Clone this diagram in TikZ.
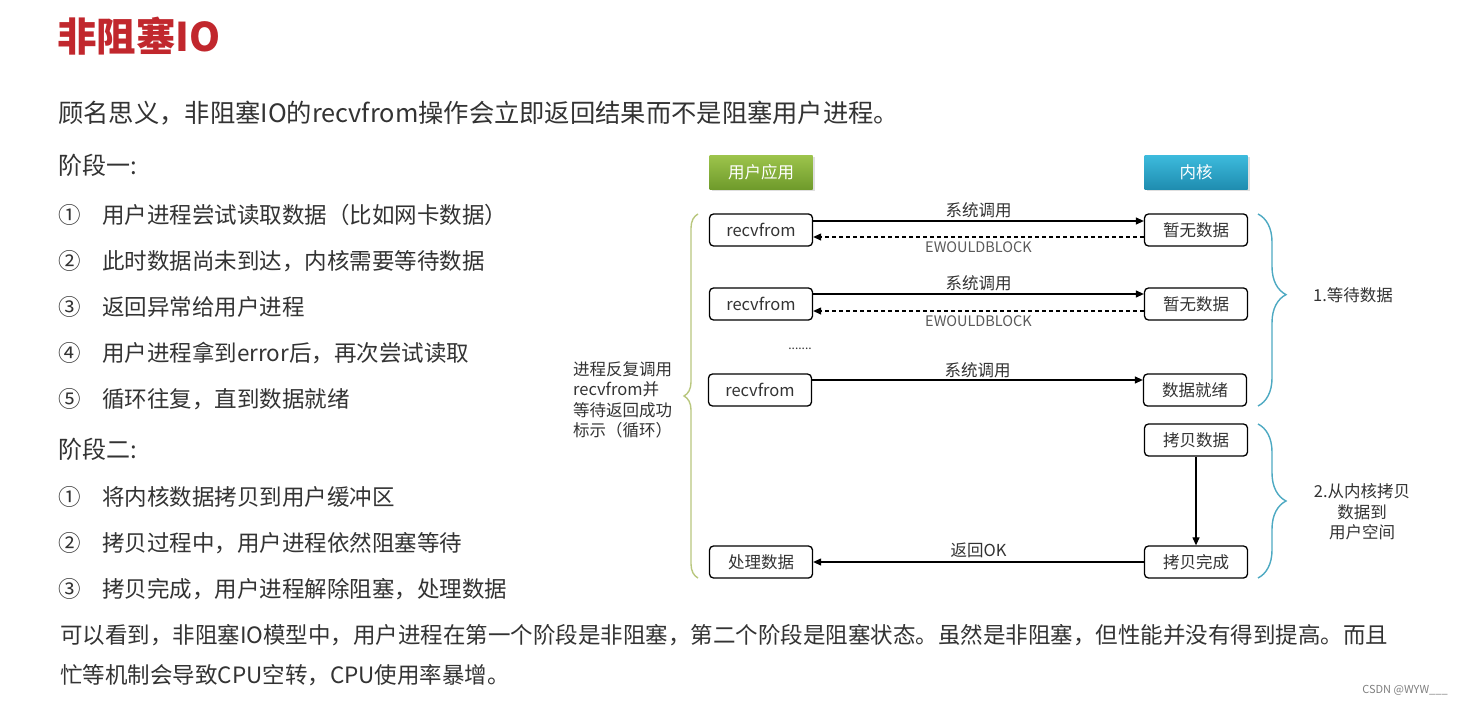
\documentclass[tikz,border=0pt]{standalone}
\usepackage{fontspec}
\setmainfont{Noto Sans CJK SC}
\usetikzlibrary{decorations.pathreplacing,arrows.meta,shadows}
\definecolor{titlered}{HTML}{C1272D}
\definecolor{txt}{HTML}{333333}
\definecolor{gtop}{HTML}{9DC44C}
\definecolor{gbot}{HTML}{6F9B2B}
\definecolor{btop}{HTML}{3DBBDD}
\definecolor{bbot}{HTML}{1F8DB0}
\definecolor{bracegreen}{HTML}{B9C77E}
\definecolor{braceblue}{HTML}{4DA9C2}
\definecolor{labgray}{HTML}{5A5A5A}
\tikzset{
  body/.style={anchor=west, text=txt, inner sep=0pt, font=\fontsize{22.5}{26}\selectfont},
  head/.style={anchor=west, text=txt, inner sep=0pt, font=\fontsize{24}{28}\selectfont},
  box/.style={draw=black, line width=1.3pt, rounded corners=4pt, minimum width=103pt, minimum height=32pt, inner sep=0pt, text=txt, font=\fontsize{16.5}{19}\selectfont, fill=white},
  hdr/.style={minimum width=103pt, minimum height=34pt, inner sep=0pt, text=white, font=\fontsize{16.5}{19}\selectfont, drop shadow={opacity=0.25, shadow xshift=2pt, shadow yshift=-2pt}},
  sarrow/.style={line width=1.2pt, -{Triangle[length=8pt,width=7pt]}},
  darrow/.style={line width=1.2pt, dashed, dash pattern=on 4pt off 3pt, -{Triangle[length=8pt,width=7pt]}},
  lab/.style={text=txt, font=\fontsize{16.5}{19}\selectfont, inner sep=2pt},
  elab/.style={text=labgray, font=\fontsize{14.5}{17}\selectfont, inner sep=2pt},
  side/.style={text=txt, font=\fontsize{16.5}{20.5}\selectfont, inner sep=0pt},
}
\begin{document}
\begin{tikzpicture}[x=1pt,y=-1pt]
\useasboundingbox[fill=white] (0,0) rectangle (1464,706);

% title and text
\node[anchor=west, inner sep=0pt, text=titlered, font=\fontsize{39.5}{42}\selectfont\bfseries] (title) at (57,36) {非阻塞IO};
\node[anchor=west, inner sep=0pt, text=txt, font=\fontsize{25.3}{30}\selectfont] (intro) at (58,113) {顾名思义，非阻塞IO的recvfrom操作会立即返回结果而不是阻塞用户进程。};
\node[head] (s1) at (58,165) {阶段一:};
\node[body] (n11) at (58,215) {①};
\node[body] (t11) at (102,215) {用户进程尝试读取数据（比如网卡数据）};
\node[body] (n12) at (58,261) {②};
\node[body] (t12) at (102,261) {此时数据尚未到达，内核需要等待数据};
\node[body] (n13) at (58,307) {③};
\node[body] (t13) at (102,307) {返回异常给用户进程};
\node[body] (n14) at (58,353) {④};
\node[body] (t14) at (102,353) {用户进程拿到error后，再次尝试读取};
\node[body] (n15) at (58,399) {⑤};
\node[body] (t15) at (102,399) {循环往复，直到数据就绪};
\node[head] (s2) at (58,449) {阶段二:};
\node[body] (n21) at (58,497) {①};
\node[body] (t21) at (102,497) {将内核数据拷贝到用户缓冲区};
\node[body] (n22) at (58,543) {②};
\node[body] (t22) at (102,543) {拷贝过程中，用户进程依然阻塞等待};
\node[body] (n23) at (58,589) {③};
\node[body] (t23) at (102,589) {拷贝完成，用户进程解除阻塞，处理数据};
\node[body] (c1) at (60,635) {可以看到，非阻塞IO模型中，用户进程在第一个阶段是非阻塞，第二个阶段是阻塞状态。虽然是非阻塞，但性能并没有得到提高。而且};
\node[body] (c2) at (60,675) {忙等机制会导致CPU空转，CPU使用率暴增。};

% header boxes
\node[hdr, top color=gtop, bottom color=gbot] (ua) at (761,172) {用户应用};
\node[hdr, top color=btop, bottom color=bbot] (kn) at (1196,172) {内核};

% diagram boxes
\node[box] (r1) at (761,230) {recvfrom};
\node[box] (k1) at (1196,230) {暂无数据};
\node[box] (r2) at (761,304) {recvfrom};
\node[box] (k2) at (1196,304) {暂无数据};
\node[box] (r3) at (760,390) {recvfrom};
\node[box] (k3) at (1195,390) {数据就绪};
\node[box] (k4) at (1196,440) {拷贝数据};
\node[box] (k5) at (1196,562) {拷贝完成};
\node[box] (r5) at (761,562) {处理数据};

\node[text=txt, font=\fontsize{12}{14}\selectfont, inner sep=0pt] (dots) at (800,349) {.......};

% arrows
\draw[sarrow] ([yshift=9pt]r1.east) -- ([yshift=9pt]k1.west) node[midway, above, lab] {系统调用};
\draw[darrow] ([yshift=-7pt]k1.west) -- ([yshift=-7pt]r1.east) node[midway, below, elab, yshift=-2pt] {EWOULDBLOCK};
\draw[sarrow] ([yshift=10pt]r2.east) -- ([yshift=10pt]k2.west) node[midway, above, lab] {系统调用};
\draw[darrow] ([yshift=-7pt]k2.west) -- ([yshift=-7pt]r2.east) node[midway, below, elab, yshift=-2pt] {EWOULDBLOCK};
\draw[sarrow] ([yshift=10pt]r3.east) -- ([yshift=10pt]k3.west) node[midway, above, lab] {系统调用};
\draw[sarrow] (k4.south) -- (k5.north);
\draw[sarrow] (k5.west) -- (r5.east) node[midway, above, lab, yshift=2pt] {返回OK};

% braces
\coordinate (lb1) at (698,578);
\coordinate (lb2) at (698,214);
\draw[bracegreen, line width=1.4pt, decorate, decoration={brace, amplitude=14pt, aspect=0.5}] (lb1) -- (lb2);
\coordinate (rb1) at (1258,214);
\coordinate (rb2) at (1258,406);
\draw[braceblue, line width=1.4pt, decorate, decoration={brace, amplitude=28pt, aspect=0.42}] (rb1) -- (rb2);
\coordinate (rb3) at (1258,424);
\coordinate (rb4) at (1258,578);
\draw[braceblue, line width=1.4pt, decorate, decoration={brace, amplitude=28pt, aspect=0.5}] (rb3) -- (rb4);

% side labels
\node[side, anchor=west, align=left] (loop) at (573,400) {进程反复调用\\recvfrom并\\等待返回成功\\标示（循环）};
\node[side] (wait) at (1353,295) {1.等待数据};
\node[side, align=center] (copy) at (1362,512) {2.从内核拷贝\\数据到\\用户空间};

\node[text=gray, font=\fontsize{11}{13}\selectfont, inner sep=0pt] (wm) at (1405,690) {CSDN @WYW\_\_\_};
\end{tikzpicture}
\end{document}
